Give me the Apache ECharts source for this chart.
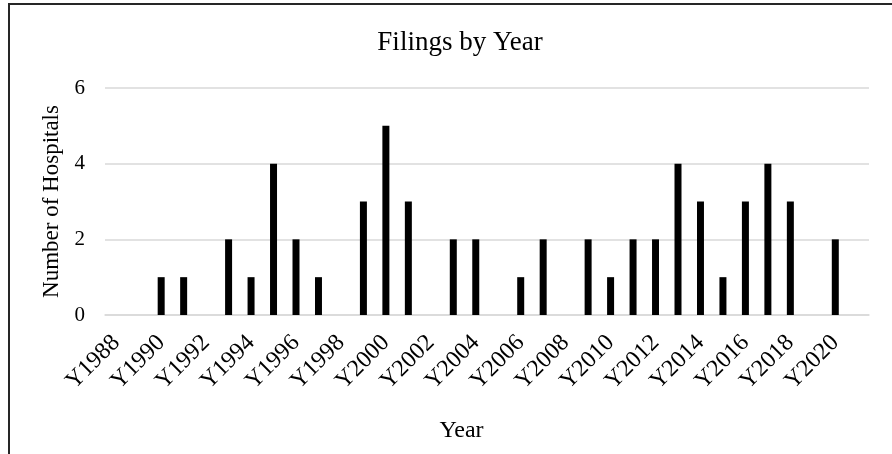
<!DOCTYPE html>
<html>
<head>
<meta charset="utf-8">
<script src="https://cdn.jsdelivr.net/npm/echarts@6/dist/echarts.min.js"></script>
<style>
  html, body { margin: 0; padding: 0; background: #fff; }
  #chart { width: 892px; height: 454px; }
</style>
</head>
<body>
<div id="chart"></div>
<script>
// Filing years (one category per year; labels shown every other year)
const years = ['Y1988','Y1989','Y1990','Y1991','Y1992','Y1993','Y1994','Y1995','Y1996','Y1997',
  'Y1998','Y1999','Y2000','Y2001','Y2002','Y2003','Y2004','Y2005','Y2006','Y2007',
  'Y2008','Y2009','Y2010','Y2011','Y2012','Y2013','Y2014','Y2015','Y2016','Y2017',
  'Y2018','Y2019','Y2020','Y2021'];
// Number of hospitals filing in each year
const hospitals = [0,0,1,1,0,2,1,4,2,1,
  0,3,5,3,0,2,2,0,1,2,
  0,2,1,2,2,4,3,1,3,4,
  3,0,2,0];
const yTicks = [0, 2, 4, 6];

const serif = "'Liberation Serif', 'Times New Roman', serif";
const chart = echarts.init(document.getElementById('chart'));
chart.setOption({
  animation: false,
  backgroundColor: '#fff',
  title: {
    text: 'Filings by Year',
    left: 455,
    top: 24,
    textAlign: 'center',
    textStyle: { fontFamily: serif, fontSize: 27, fontWeight: 'normal', color: '#000' }
  },
  graphic: [{
    type: 'rect',
    shape: { x: 9, y: 4, width: 900, height: 470 },
    style: { fill: 'none', stroke: '#262626', lineWidth: 2 },
    silent: true
  }],
  grid: { left: 105, right: 23, top: 88, bottom: 139 },
  xAxis: {
    type: 'category',
    data: years,
    name: 'Year',
    nameLocation: 'middle',
    nameGap: 104,
    nameTextStyle: { fontFamily: serif, fontSize: 24, color: '#000', padding: [0, 51, 0, 0] },
    axisLine: { show: true, lineStyle: { color: '#d9d9d9', width: 1.5 } },
    axisTick: { show: false },
    axisLabel: {
      interval: 1,
      rotate: 45,
      margin: 24,
      fontFamily: serif,
      fontSize: 24,
      color: '#000'
    }
  },
  yAxis: {
    type: 'value',
    min: yTicks[0],
    max: yTicks[yTicks.length - 1],
    interval: 2,
    name: 'Number of Hospitals',
    nameLocation: 'middle',
    nameGap: 33,
    nameTextStyle: { fontFamily: serif, fontSize: 23, color: '#000' },
    axisLine: { show: false },
    axisTick: { show: false },
    axisLabel: { margin: 20, fontFamily: serif, fontSize: 21, color: '#000' },
    splitLine: { lineStyle: { color: '#d9d9d9', width: 1.5 } }
  },
  series: [{
    type: 'bar',
    data: hospitals,
    barWidth: 7,
    itemStyle: { color: '#000' }
  }]
});
</script>
</body>
</html>
